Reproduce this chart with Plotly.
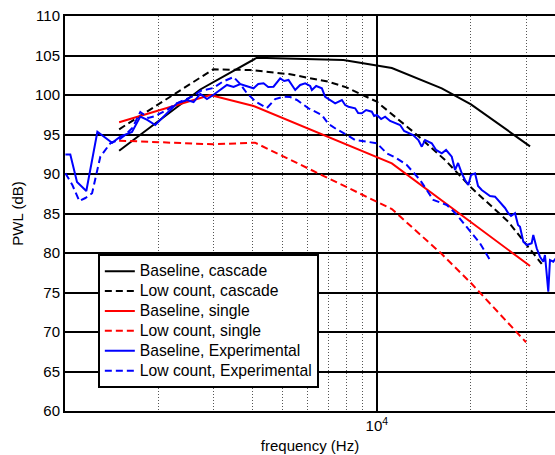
import plotly.graph_objects as go

# ---------------- data ----------------
cas_base_f = [1500, 2726, 4137, 7820, 11170, 16130, 20000, 30900]
cas_base_db = [92.95, 100.7, 104.72, 104.43, 103.42, 100.85, 98.82, 93.5]

cas_low_f = [1500, 3000, 3937, 5283, 7004, 8000, 10000, 13255, 16530, 20140, 26330, 33670]
cas_low_db = [95.66, 103.25, 103.16, 102.62, 101.68, 100.97, 99.15, 95.15, 91.77, 88.19, 83.96, 78.61]

sgl_base_f = [1500, 2934, 4036, 11170, 30900]
sgl_base_db = [96.54, 100.0, 98.61, 91.35, 78.35]

sgl_low_f = [1500, 3000, 4080, 11170, 16130, 20000, 30000]
sgl_low_db = [94.22, 93.76, 93.96, 85.57, 79.87, 76.2, 68.7]

exp_base_f = [1010, 1047, 1100, 1178, 1278, 1424, 1513, 1649, 1753, 1845,
              1957, 2061, 2186, 2296, 2472, 2595, 2726, 2863, 2999, 3158,
              3317, 3483, 3659, 3823, 4035, 4177, 4343, 4495, 4674, 4910,
              5056, 5219, 5363, 5483, 5689, 5901, 6122, 6199, 6399, 6673,
              6836, 7093, 7359, 7731, 7920, 8116, 8525, 8716, 8955, 9243,
              9638, 9804, 10000, 10323, 10629, 11027, 11442, 11871, 12224, 12618,
              13062, 13580, 13925, 14265, 14986, 15470, 16133, 16650, 17362, 17790,
              18188, 18689, 19146, 19618, 20010, 20610, 21070, 21650, 22345, 23014,
              23878, 24406, 25084, 25698, 26332, 26858, 27662, 28280, 28694, 29403,
              30212, 31274, 31644, 32447, 33240, 34061, 34487, 34919, 35339, 35781,
              36659, 37400, 38510]
exp_base_db = [92.47, 92.47, 88.99, 87.85, 95.35, 93.96, 94.72, 95.32, 97.28, 96.84,
               96.2, 97.09, 98.1, 98.95, 99.37, 99.11, 100.13, 99.49, 100.0, 100.63,
               101.27, 101.01, 101.39, 101.14, 100.85, 101.39, 101.48, 101.01, 101.05, 102.11,
               101.77, 101.9, 101.14, 100.63, 101.27, 101.48, 101.14, 100.63, 101.14, 100.85,
               99.78, 99.37, 98.95, 99.37, 98.73, 98.52, 98.32, 97.72, 97.68, 98.1,
               97.89, 97.34, 97.47, 96.96, 97.25, 96.71, 96.42, 96.2, 95.44, 95.15,
               94.94, 94.3, 93.46, 94.3, 93.89, 93.04, 92.62, 93.04, 92.19, 90.51,
               91.39, 90.09, 89.24, 88.61, 89.87, 90.09, 88.48, 87.97, 87.6, 87.22,
               87.13, 86.71, 86.29, 85.7, 85.03, 84.68, 85.03, 83.54, 83.33, 81.43,
               81.01, 81.23, 82.28, 80.6, 79.53, 78.9, 79.75, 76.8, 75.1, 79.11,
               78.9, 79.37, 78.86]

exp_low_f = [1010, 1063, 1119, 1170, 1229, 1306, 1406, 1494, 1570, 1653,
             1753, 1859, 1957, 2134, 2267, 2440, 2589, 2726, 2999, 3205,
             3483, 3659, 3843, 4116, 4452, 4732, 5030, 5284, 5552, 6046,
             6673, 7004, 7413, 8021, 8525, 9292, 10000, 10765, 11527, 12471,
             13753, 15163, 16739, 17922, 19385, 21380, 23014]
exp_low_db = [90.09, 88.61, 86.58, 86.96, 87.56, 92.19, 93.89, 94.3, 94.94, 95.82,
              97.85, 97.09, 97.34, 98.1, 98.86, 99.37, 99.87, 100.51, 100.89, 101.65,
              102.28, 101.39, 100.22, 99.11, 98.35, 99.49, 99.78, 99.75, 99.37, 98.32,
              97.47, 96.33, 95.7, 94.94, 94.3, 94.09, 93.89, 92.62, 92.03, 91.14,
              89.24, 86.71, 86.08, 84.94, 83.33, 81.23, 79.11]

y_ticks = [60, 65, 70, 75, 80, 85, 90, 95, 100, 105, 110]
x_major = [10000]
x_major_text = ["10<sup>4</sup>"]
x_minor = [2000, 3000, 4000, 5000, 6000, 7000, 8000, 9000, 20000, 30000, 40000]

# ---------------- figure ----------------
FONT = "Liberation Sans, Arial, Helvetica, sans-serif"
DASH = "7px,4px"

series = [
    ("Baseline, cascade", cas_base_f, cas_base_db, "#000000", "solid"),
    ("Low count, cascade", cas_low_f, cas_low_db, "#000000", DASH),
    ("Baseline, single", sgl_base_f, sgl_base_db, "#ff0000", "solid"),
    ("Low count, single", sgl_low_f, sgl_low_db, "#ff0000", DASH),
    ("Baseline, Experimental", exp_base_f, exp_base_db, "#0000ff", "solid"),
    ("Low count, Experimental", exp_low_f, exp_low_db, "#0000ff", DASH),
]

fig = go.Figure()
for name, fx, fy, col, dash in series:
    fig.add_trace(go.Scatter(
        x=fx, y=fy, mode="lines",
        name='<span style="font-size:15.7px">' + name + '</span>',
        line=dict(color=col, width=2, dash=dash)))

fig.update_layout(
    width=555, height=455,
    margin=dict(l=65, r=0, t=16, b=44, autoexpand=False),
    paper_bgcolor="white", plot_bgcolor="white",
    font=dict(family=FONT, size=15, color="black"),
    showlegend=True,
    legend=dict(x=0.067, y=0.397, xanchor="left", yanchor="top",
                bgcolor="white", bordercolor="black", borderwidth=2,
                font=dict(size=13), tracegroupgap=0, itemwidth=30),
)

fig.update_xaxes(
    type="log", range=[3.003, 4.5697],
    tickmode="array", tickvals=x_major, ticktext=x_major_text,
    ticks="", showgrid=True, gridcolor="black", gridwidth=1.5,
    showline=True, linecolor="black", linewidth=2, mirror=True,
    minor=dict(tickmode="array", tickvals=x_minor, showgrid=True,
               gridcolor="#555555", gridwidth=1, griddash="1px,2px", ticks=""),
    title=dict(text="frequency (Hz)", standoff=7, font=dict(size=15)),
    zeroline=False, automargin=False,
)
fig.update_yaxes(
    range=[60, 110], tickmode="array", tickvals=y_ticks,
    ticks="", showgrid=True, gridcolor="black", gridwidth=1.5,
    showline=True, linecolor="black", linewidth=2, mirror=False,
    title=dict(text="PWL (dB)", standoff=8, font=dict(size=15)),
    zeroline=False, automargin=False,
)

fig.write_html("out.html",
               config={"displayModeBar": False},
               post_script="document.body.style.margin='0px';"
                           "document.body.style.overflow='hidden';")
